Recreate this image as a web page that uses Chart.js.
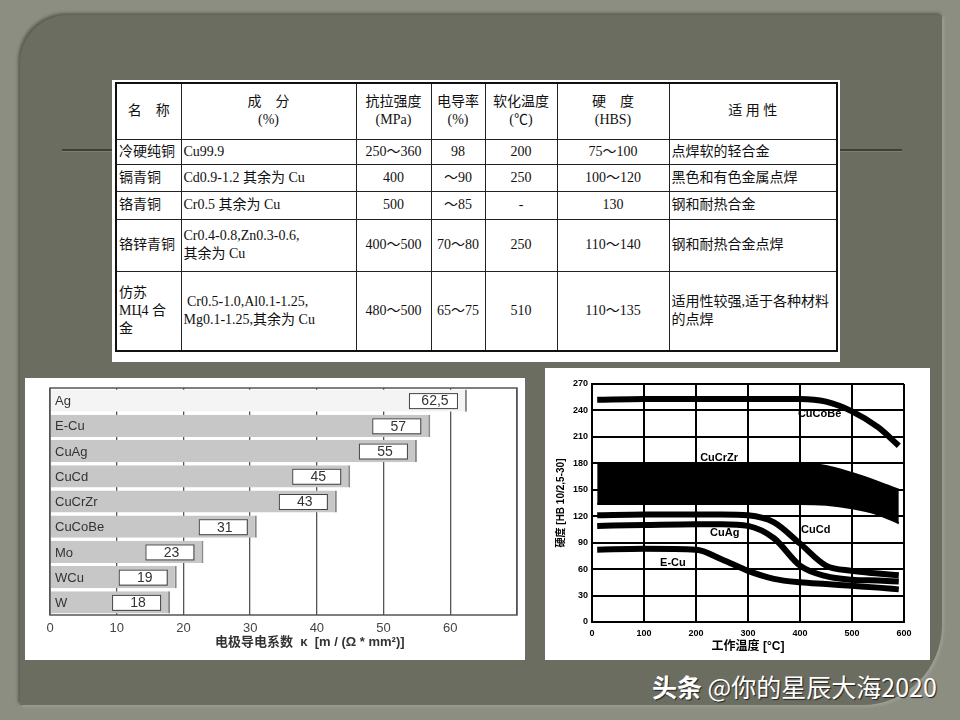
<!DOCTYPE html>
<html>
<head>
<meta charset="utf-8">
<script src="https://cdn.jsdelivr.net/npm/chart.js@4.4.1/dist/chart.umd.min.js"></script>
<style>
  body { margin: 0; width: 960px; height: 720px; background: #8c8e82; position: relative; overflow: hidden; font-family: "Liberation Sans", "Noto Sans CJK SC", sans-serif; }
  #panel { position: absolute; left: 20px; top: 15px; width: 922px; height: 690px; background: #6b6d60;
           border-top-left-radius: 48px; border-bottom-right-radius: 80px; box-shadow: -2px -2px 3px rgba(0,0,0,0.35), 2px 2px 3px rgba(255,255,255,0.15); }
  #rule { position: absolute; left: 62px; top: 149px; width: 840px; height: 2px; background: #3e4037; border-bottom: 1px solid #7d7f72; }
  #tablebox { position: absolute; left: 112px; top: 80px; width: 728px; height: 282px; background: #fff; }
  table { position: absolute; left: 3px; top: 2px; border-collapse: collapse; table-layout: fixed;
          font-family: "Liberation Serif", "Noto Sans CJK SC", serif; font-size: 14px; color: #111; border: 2px solid #111; }
  td { border: 1px solid #222; padding: 0 2px; line-height: 18px; white-space: nowrap; overflow: hidden; }
  td.c { text-align: center; }
  #barbox { position: absolute; left: 25px; top: 378px; width: 500px; height: 282px; background: #fff; }
  #linebox { position: absolute; left: 545px; top: 368px; width: 385px; height: 292px; background: #fff; }
  #bartitle { position: absolute; left: 215px; top: 631px; font-size: 13px; font-weight: bold; color: #333; white-space: pre; }
  #mark { position: absolute; left: 652px; top: 670px; font-family: "Noto Sans CJK SC", sans-serif; font-size: 25px; color: #fff;
          text-shadow: 1px 1px 1px #222; white-space: pre; line-height: 32px; }
</style>
</head>
<body>
<div id="panel"></div>
<div id="rule"></div>

<div id="tablebox">
<table>
  <colgroup><col style="width:65px"><col style="width:175px"><col style="width:75px"><col style="width:54px"><col style="width:72px"><col style="width:112px"><col style="width:168px"></colgroup>
  <tr style="height:56px"><td class="c">名　称</td><td class="c">成　分<br>(%)</td><td class="c">抗拉强度<br>(MPa)</td><td class="c">电导率<br>(%)</td><td class="c">软化温度<br>(℃)</td><td class="c">硬　度<br>(HBS)</td><td class="c">适 用 性</td></tr>
  <tr style="height:25px"><td>冷硬纯铜</td><td>Cu99.9</td><td class="c">250～360</td><td class="c">98</td><td class="c">200</td><td class="c">75～100</td><td>点焊软的轻合金</td></tr>
  <tr style="height:27px"><td>镉青铜</td><td>Cd0.9-1.2 其余为 Cu</td><td class="c">400</td><td class="c">～90</td><td class="c">250</td><td class="c">100～120</td><td>黑色和有色金属点焊</td></tr>
  <tr style="height:28px"><td>铬青铜</td><td>Cr0.5 其余为 Cu</td><td class="c">500</td><td class="c">～85</td><td class="c">-</td><td class="c">130</td><td>钢和耐热合金</td></tr>
  <tr style="height:52px"><td>铬锌青铜</td><td>Cr0.4-0.8,Zn0.3-0.6,<br>其余为 Cu</td><td class="c">400～500</td><td class="c">70～80</td><td class="c">250</td><td class="c">110～140</td><td>钢和耐热合金点焊</td></tr>
  <tr style="height:80px"><td>仿苏<br>MЦ4 合<br>金</td><td>&nbsp;Cr0.5-1.0,Al0.1-1.25,<br>Mg0.1-1.25,其余为 Cu</td><td class="c">480～500</td><td class="c">65～75</td><td class="c">510</td><td class="c">110～135</td><td>适用性较强,适于各种材料<br>的点焊</td></tr>
</table>
</div>

<div id="barbox"><canvas id="bar-chart" width="500" height="282"></canvas></div>
<div id="bartitle">电极导电系数  κ  [m / (Ω * mm²)]</div>
<div id="linebox"><canvas id="line-chart" width="385" height="292"></canvas></div>
<div id="mark"><b>头条</b> @你的星辰大海2020</div>

<script>
// electrode conductivity
const materials = ["Ag", "E-Cu", "CuAg", "CuCd", "CuCrZr", "CuCoBe", "Mo", "WCu", "W"];
const conductivity = [62.5, 57, 55, 45, 43, 31, 23, 19, 18];
const condTicks = [0, 10, 20, 30, 40, 50, 60];

// hardness vs working temperature
const temps = [10, 100, 200, 250, 300, 350, 400, 450, 500, 550, 590];
const hbCuCoBe = [252, 253, 253, 253, 253, 253, 253, 250, 239, 221, 200];
const hbCuCrZrHigh = [180, 180, 180, 180, 180, 180, 180, 177, 169, 159, 150];
const hbCuCrZrLow = [134, 134, 134, 134, 134, 134, 134, 133, 129, 122, 112];
const hbCuCd = [121, 122, 122, 122, 121, 113, 89, 64, 58, 55, 53];
const hbCuAg = [109, 110, 111, 111, 109, 95, 64, 52, 48, 47, 46];
const hbECu = [82, 83, 82, 71, 58, 49, 45, 43, 41, 39, 37];

const sans = '"Liberation Sans", "Noto Sans CJK SC", sans-serif';

// names, value boxes and frame for bar chart
const barExtras = {
    id: "barExtras",
    afterDatasetsDraw(chart) {
        const ctx = chart.ctx;
        const a = chart.chartArea;
        const ys = chart.scales.y;
        ctx.save();
        ctx.textBaseline = "middle";
        chart.getDatasetMeta(0).data.forEach((bar, i) => {
            ctx.fillStyle = "#333";
            ctx.font = "13px " + sans;
            ctx.textAlign = "left";
            ctx.fillText(ys.getLabelForValue(i), a.left + 5, ys.getPixelForValue(i) + 1);

            const right = bar.x - 10, w = 48, h = 15;
            ctx.fillStyle = "#fff";
            ctx.fillRect(right - w, bar.y - h / 2, w, h);
            ctx.strokeStyle = "#444";
            ctx.lineWidth = 1;
            ctx.strokeRect(right - w + 0.5, bar.y - h / 2 + 0.5, w, h);
            ctx.fillStyle = "#333";
            ctx.font = "14px " + sans;
            ctx.textAlign = "center";
            ctx.fillText(String(conductivity[i]).replace(".", ","), right - w / 2 + 2, bar.y + 1);
        });
        ctx.strokeStyle = "#555";
        ctx.lineWidth = 1.5;
        ctx.strokeRect(a.left, a.top, a.right - a.left, a.bottom - a.top);
        ctx.restore();
    }
};

new Chart("bar-chart", {
    type: "bar",
    data: {
        labels: materials,
        datasets: [{
            data: conductivity,
            backgroundColor: conductivity.map((v, i) => i === 0 ? "#f4f4f4" : "#c7c7c7"),
            borderColor: "#8a8a8a",
            borderWidth: {left: 0, top: 0, bottom: 0, right: 2},
            borderSkipped: false,
            barPercentage: 0.88,
            categoryPercentage: 1
        }]
    },
    options: {
        indexAxis: "y",
        responsive: false,
        animation: false,
        layout: {padding: {left: 25, right: 8, top: 10, bottom: 0}},
        plugins: {legend: {display: false}, tooltip: {enabled: false}},
        scales: {
            x: {
                min: 0, max: 70,
                afterFit: s => { s.height = 45; },
                afterBuildTicks: s => { s.ticks = condTicks.concat([70]).map(v => ({value: v})); },
                grid: {color: "#555", lineWidth: 1.3, drawTicks: false},
                border: {display: false},
                ticks: {padding: 6, color: "#444", font: {size: 13, family: sans},
                        callback: v => condTicks.includes(v) ? String(v) : ""}
            },
            y: {
                afterFit: s => { s.width = 0; },
                grid: {display: false},
                border: {display: false},
                ticks: {display: false}
            }
        }
    },
    plugins: [barExtras]
});

// curve names on the hardness chart, in data units
const curveNames = [
    {text: "CuCoBe", x: 396, y: 236},
    {text: "CuCrZr", x: 208, y: 186},
    {text: "CuAg", x: 227, y: 101},
    {text: "CuCd", x: 402, y: 104},
    {text: "E-Cu", x: 131, y: 67}
];
const curveLabels = {
    id: "curveLabels",
    afterDatasetsDraw(chart) {
        const ctx = chart.ctx;
        const xs = chart.scales.x, ys = chart.scales.y;
        ctx.save();
        ctx.fillStyle = "#000";
        ctx.font = "bold 11px " + sans;
        ctx.textBaseline = "middle";
        curveNames.forEach(c => ctx.fillText(c.text, xs.getPixelForValue(c.x), ys.getPixelForValue(c.y)));
        ctx.restore();
    }
};

function curve(values, extra) {
    return Object.assign({
        data: temps.map((t, i) => ({x: t, y: values[i]})),
        borderColor: "#000",
        borderWidth: 6,
        pointRadius: 0,
        cubicInterpolationMode: "monotone",
        fill: false
    }, extra || {});
}

new Chart("line-chart", {
    type: "line",
    data: {
        datasets: [
            curve(hbCuCoBe),
            curve(hbCuCrZrHigh, {borderWidth: 2, fill: "+1", backgroundColor: "#000"}),
            curve(hbCuCrZrLow, {borderWidth: 2}),
            curve(hbCuCd),
            curve(hbCuAg),
            curve(hbECu)
        ]
    },
    options: {
        responsive: false,
        animation: false,
        layout: {padding: {left: 0, right: 26, top: 16, bottom: 0}},
        plugins: {legend: {display: false}, tooltip: {enabled: false}},
        scales: {
            x: {
                type: "linear", min: 0, max: 600,
                afterFit: s => { s.height = 38; },
                grid: {color: "#000", lineWidth: 2, drawTicks: false},
                border: {color: "#000", width: 2},
                ticks: {stepSize: 100, padding: 6, color: "#000", font: {size: 9, weight: "bold", family: sans}},
                title: {display: true, text: "工作温度 [°C]", color: "#000", padding: {top: 0, bottom: 6},
                        font: {size: 12, weight: "bold", family: sans}}
            },
            y: {
                min: 0, max: 270,
                afterFit: s => { s.width = 47; },
                grid: {color: "#000", lineWidth: 2, drawTicks: false},
                border: {color: "#000", width: 2},
                ticks: {stepSize: 30, padding: 4, color: "#000", font: {size: 9, weight: "bold", family: sans}},
                title: {display: true, text: "硬度 [HB 10/2,5-30]", color: "#000", padding: {top: 10, bottom: 0},
                        font: {size: 10, weight: "bold", family: sans}}
            }
        }
    },
    plugins: [curveLabels]
});
</script>
</body>
</html>
